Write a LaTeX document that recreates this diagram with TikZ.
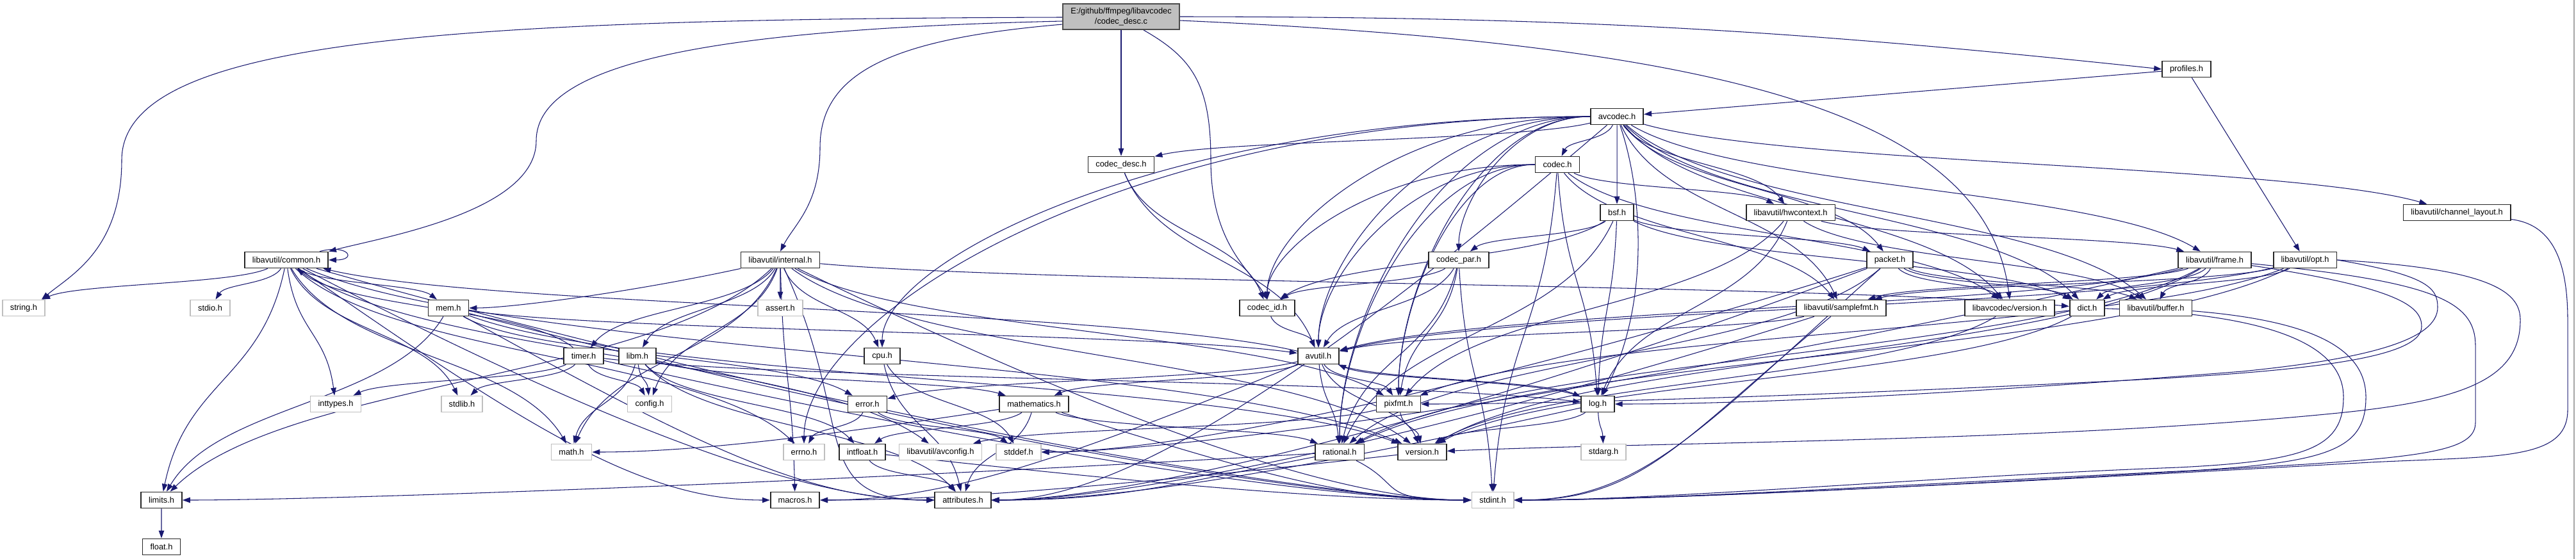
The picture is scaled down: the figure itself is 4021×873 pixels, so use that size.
\documentclass[tikz,border=0pt]{standalone}
\usepackage{fontspec}
\setmainfont{Liberation Sans}
\usetikzlibrary{arrows.meta,calc,backgrounds}
\definecolor{inclblue}{HTML}{191970}
\definecolor{sysgray}{HTML}{BFBFBF}
\definecolor{srcfill}{HTML}{BFBFBF}
\tikzset{
  hdr/.style     = {rectangle, draw=black!85, line width=0.5pt, fill=white,
                    font=\fontsize{3.65pt}{4.4pt}\selectfont, inner xsep=3.4pt,
                    inner ysep=0pt, minimum height=7.1pt},
  syshdr/.style  = {hdr, draw=sysgray},
  srcfile/.style = {hdr, fill=srcfill, draw=black!70, align=center, minimum height=11.4pt},
  incl/.style    = {-{Triangle[length=3.4pt,width=2.4pt]}, draw=inclblue, line width=0.3pt},
}
% include edge: soft S curve between two nodes
\newcommand{\dep}[2]{%
  \draw[incl] let \p1=(#1), \p2=(#2) in
    (#1) .. controls ({0.8*\x1+0.2*\x2},{0.5*\y1+0.5*\y2})
              and ({0.2*\x1+0.8*\x2},{0.5*\y1+0.5*\y2}) .. (#2);}
% include edge that runs into the side of a node
\newcommand{\depside}[3]{%
  \draw[incl] let \p1=(#1), \p2=(#2) in
    (#1) .. controls ({0.5*\x1+0.5*\x2},{0.3*\y1+0.7*\y2})
              and ($(#2)+(#3,0)$) .. (#2);}
% include edge that leaves a node on its left side and drops onto the target
\newcommand{\depw}[2]{%
  \draw[incl] let \p1=(#1.west), \p2=(#2) in
    (#1.west) .. controls ({0.4*\x1+0.6*\x2},\y1) and (\x2,{0.4*\y1+0.6*\y2}) .. (#2);}

\begin{document}
\begin{tikzpicture}[x=0.01cm, y=0.01cm]
  \begin{pgfonlayer}{background}
    \fill[white] (0,0) rectangle (4021,-873);
  \end{pgfonlayer}
  \useasboundingbox (0,0) rectangle (4021,-873);
  \draw[black!35, line width=0.6pt] (4018,0) -- (4018,-873);

  \node[srcfile] (cdc) at (1750,-26) {E:/github/ffmpeg/libavcodec\\/codec\_desc.c};
  \node[hdr] (profiles)   at (3413,-108) {profiles.h};
  \node[hdr] (avcodec)    at (2524,-182) {avcodec.h};
  \node[hdr] (codec)      at (2431,-257) {codec.h};
  \node[hdr] (codecdesc)  at (1750,-257) {codec\_desc.h};
  \node[hdr] (bsf)        at (2524,-332) {bsf.h};
  \node[hdr] (hwctx)      at (2795,-332) {libavutil/hwcontext.h};
  \node[hdr] (chlayout)   at (3835,-332) {libavutil/channel\_layout.h};
  \node[hdr] (common)     at (447,-406)  {libavutil/common.h};
  \node[hdr] (internal)   at (1218,-406) {libavutil/internal.h};
  \node[hdr] (codecpar)   at (2277,-406) {codec\_par.h};
  \node[hdr] (packet)     at (2950,-406) {packet.h};
  \node[hdr] (frame)      at (3457,-406) {libavutil/frame.h};
  \node[hdr] (opt)        at (3598,-406) {libavutil/opt.h};
  \node[syshdr] (string)  at (37,-481)   {string.h};
  \node[syshdr] (stdio)   at (328,-481)  {stdio.h};
  \node[hdr] (mem)        at (700,-481)  {mem.h};
  \node[syshdr] (assert)  at (1218,-481) {assert.h};
  \node[hdr] (codecid)    at (1978,-481) {codec\_id.h};
  \node[hdr] (samplefmt)  at (2874,-481) {libavutil/samplefmt.h};
  \node[hdr] (lavcver)    at (3137,-481) {libavcodec/version.h};
  \node[hdr] (dict)       at (3258,-481) {dict.h};
  \node[hdr] (buffer)     at (3365,-481) {libavutil/buffer.h};
  \node[hdr] (timer)      at (911,-556)  {timer.h};
  \node[hdr] (libm)       at (995,-556)  {libm.h};
  \node[hdr] (cpu)        at (1377,-556) {cpu.h};
  \node[hdr] (avutil)     at (2058,-556) {avutil.h};
  \node[syshdr] (inttypes) at (524,-631) {inttypes.h};
  \node[syshdr] (stdlib)  at (721,-631)  {stdlib.h};
  \node[syshdr] (config)  at (1014,-631) {config.h};
  \node[hdr] (error)      at (1354,-631) {error.h};
  \node[hdr] (mathem)     at (1614,-631) {mathematics.h};
  \node[hdr] (pixfmt)     at (2183,-631) {pixfmt.h};
  \node[hdr] (log)        at (2494,-631) {log.h};
  \node[syshdr] (math)    at (892,-706)  {math.h};
  \node[syshdr] (errno)   at (1255,-706) {errno.h};
  \node[hdr] (intfloat)   at (1346,-706) {intfloat.h};
  \node[syshdr] (avconfig) at (1468,-706) {libavutil/avconfig.h};
  \node[syshdr] (stddef)  at (1590,-706) {stddef.h};
  \node[hdr] (rational)   at (2091,-706) {rational.h};
  \node[hdr] (version)    at (2220,-706) {version.h};
  \node[syshdr] (stdarg)  at (2503,-706) {stdarg.h};
  \node[hdr] (limits)     at (252,-781)  {limits.h};
  \node[hdr] (macros)     at (1241,-781) {macros.h};
  \node[hdr] (attributes) at (1503,-781) {attributes.h};
  \node[syshdr] (stdint)  at (2330,-781) {stdint.h};
  \node[hdr] (float)      at (252,-854)  {float.h};

  \begin{pgfonlayer}{background}
  % codec_desc.c
  \draw[incl] ($(cdc.west)+(0,-1)$) .. controls (700,-30) and (190,-60) .. (190,-250)
              .. controls (190,-390) and (110,-430) .. ($(string.north east)+(-6,0)$);
  \draw[incl] ($(cdc.west)+(0,-7)$) .. controls (1150,-45) and (837,-90) .. (837,-220)
              .. controls (837,-330) and (600,-370) .. (common.north east);
  \draw[incl] ($(cdc.west)+(0,-12)$) .. controls (1400,-60) and (1280,-110) .. (1280,-230)
              .. controls (1280,-320) and (1240,-350) .. (internal.north);
  \draw[incl] (cdc) -- (codecdesc);
  \draw[incl] ($(cdc.south)+(35,0)$) .. controls (1860,-90) and (1890,-130) .. (1890,-250)
              .. controls (1890,-380) and (1950,-420) .. (codecid.north);
  \draw[incl] (cdc.east) to[bend left=3] (profiles.west);
  \draw[incl] ($(cdc.east)+(0,-6)$) .. controls (2700,-70) and (3100,-180) .. (lavcver.north);
  \draw[incl] (profiles) -- (avcodec);
  \draw[incl] (profiles) -- (opt);

  % libavcodec headers
  \foreach \t in {codec,bsf,hwctx,packet,codecdesc,chlayout,frame,samplefmt,dict,buffer,lavcver}
    {\dep{avcodec}{\t}}
  \foreach \t in {codecid,avutil,cpu,errno,pixfmt,rational,codecpar} {\depw{avcodec}{\t}}
  \draw[incl] (avcodec) .. controls (2565,-300) and (2575,-480) .. (log);
  \depside{avcodec}{attributes.east}{200}
  \foreach \t in {hwctx,log,samplefmt,lavcver,stdint} {\dep{codec}{\t}}
  \foreach \t in {codecid,avutil,pixfmt,rational} {\depw{codec}{\t}}
  \foreach \t in {avutil,codecid} {\dep{codecdesc}{\t}}
  \foreach \t in {dict,log,rational,codecid,codecpar,packet} {\dep{bsf}{\t}}
  \foreach \t in {stdint,avutil,rational,pixfmt,codecid} {\dep{codecpar}{\t}}
  \foreach \t in {rational,dict,buffer,lavcver} {\dep{packet}{\t}}
  \foreach \t in {stddef.east,stdint.east,attributes.east} {\depside{packet}{\t}{200}}
  \dep{codecid}{avutil}
  \dep{lavcver}{version}

  % libavutil headers
  \foreach \t in {buffer,frame,log,pixfmt} {\dep{hwctx}{\t}}
  \draw[incl] (chlayout) .. controls (3980,-350) and (4008,-400) .. (4008,-500)
              -- (4008,-640) .. controls (4008,-720) and (3900,-712) .. (3700,-722)
              .. controls (3200,-750) and (2600,-781) .. (stdint.east);
  \foreach \t in {string,stdio,mem,inttypes,stdlib,errno,math,limits,avconfig,version}
    {\dep{common}{\t}}
  \foreach \t in {stdint.west,attributes.west,macros.west} {\depside{common}{\t}{-200}}
  \draw[incl] ($(common.north east)+(-14,0)$) .. controls +(45,12) and +(45,0) .. (common.east);
  \foreach \t in {assert,timer,libm,cpu,config,math,limits,macros,pixfmt,version,dict}
    {\dep{internal}{\t}}
  \depside{internal}{mem.east}{60}
  \foreach \t in {stdint.west,attributes.west} {\depside{internal}{\t}{-200}}
  \foreach \t in {avutil,buffer,dict,rational,samplefmt,version} {\dep{frame}{\t}}
  \depside{frame}{stddef.east}{200}
  \draw[incl] (frame) .. controls (3800,-440) and (3864,-470) .. (3864,-540)
              -- (3864,-660) .. controls (3864,-700) and (3800,-712) .. (3600,-725)
              .. controls (3100,-755) and (2600,-781) .. (stdint.east);
  \draw[incl] (frame) .. controls (3750,-450) and (3780,-480) .. (3780,-510)
              .. controls (3780,-560) and (3600,-580) .. (3300,-595)
              .. controls (2800,-620) and (2400,-631) .. (pixfmt);
  \foreach \t in {rational,avutil,dict,pixfmt,samplefmt} {\dep{opt}{\t}}
  \draw[incl] (opt.east) .. controls (3900,-420) and (3934,-460) .. (3934,-500)
              .. controls (3934,-590) and (3850,-625) .. (3650,-645)
              .. controls (3200,-690) and (2600,-690) .. (version);
  \draw[incl] (opt.east) .. controls (3790,-430) and (3805,-450) .. (3805,-480)
              .. controls (3805,-530) and (3700,-560) .. (3500,-580)
              .. controls (3000,-620) and (2700,-631) .. (log);
  \foreach \t in {limits,error,avutil,version} {\dep{mem}{\t}}
  \foreach \t in {stdint.west,attributes.west} {\depside{mem}{\t}{-200}}
  \dep{samplefmt}{avutil}
  \foreach \t in {stdint.east,attributes.east} {\depside{samplefmt}{\t}{200}}
  \dep{dict}{version}
  \draw[incl] (dict) .. controls (3550,-490) and (3658,-540) .. (3658,-620)
              .. controls (3658,-700) and (3600,-720) .. (3400,-730)
              .. controls (3000,-745) and (2600,-781) .. (stdint.east);
  \draw[incl] (buffer) .. controls (3600,-500) and (3693,-540) .. (3693,-620)
              .. controls (3693,-700) and (3640,-722) .. (3420,-735)
              .. controls (3000,-755) and (2600,-781) .. (stdint.east);
  \foreach \t in {config,stdlib,inttypes,common,log} {\dep{timer}{\t}}
  \depside{timer}{stdint.west}{-200}
  \foreach \t in {math,config,attributes,intfloat,mathem} {\dep{libm}{\t}}
  \foreach \t in {stddef,attributes} {\dep{cpu}{\t}}
  \foreach \t in {common,error,rational,version,mathem,log,pixfmt} {\dep{avutil}{\t}}
  \depside{avutil}{macros.east}{200}
  \foreach \t in {errno,stddef} {\dep{error}{\t}}
  \foreach \t in {attributes,rational,intfloat} {\dep{mathem}{\t}}
  \depside{mathem}{math.east}{150}
  \depside{mathem}{stdint.west}{-200}
  \foreach \t in {avconfig,version} {\dep{pixfmt}{\t}}
  \foreach \t in {stdarg,avutil,version} {\dep{log}{\t}}
  \depside{log}{attributes.east}{200}
  \dep{intfloat}{attributes}
  \depside{intfloat}{stdint.west}{-200}
  \depside{rational}{attributes.east}{200}
  \depside{rational}{stdint.west}{-150}
  \depside{rational}{limits.east}{200}
  \depside{version}{macros.east}{200}
  \dep{limits}{float}
  \end{pgfonlayer}
\end{tikzpicture}
\end{document}
